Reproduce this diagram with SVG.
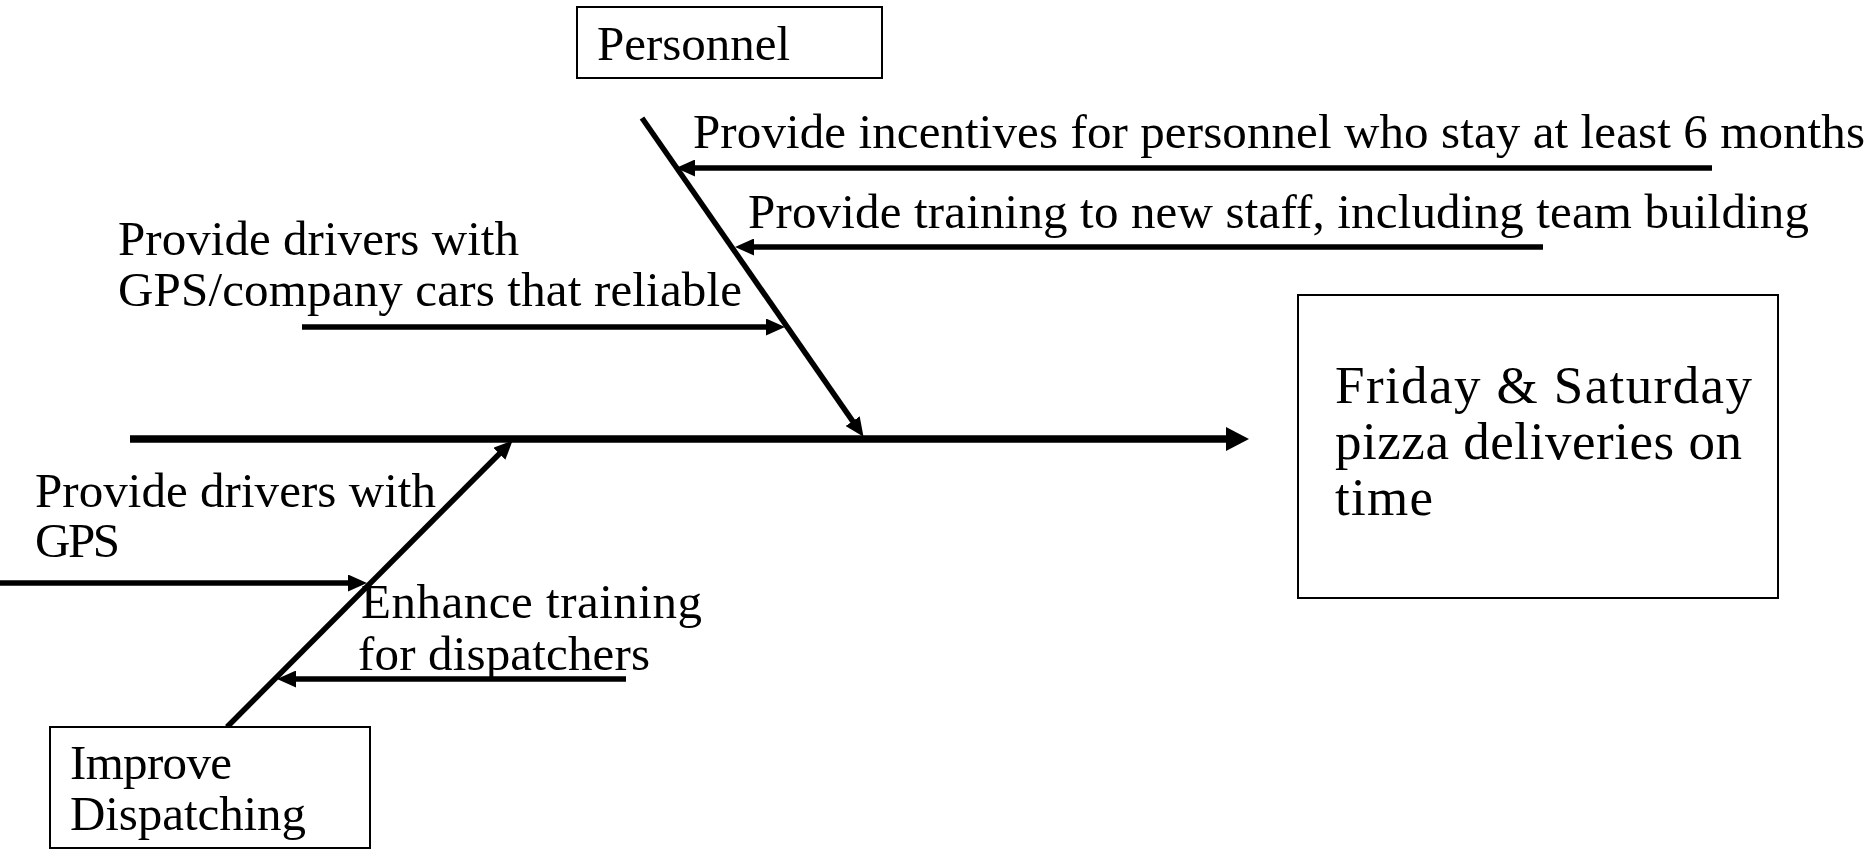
<svg xmlns="http://www.w3.org/2000/svg" width="1871" height="850" viewBox="0 0 1871 850">
  <style>
    .box { fill: #ffffff; stroke: #000000; stroke-width: 2; }
    .lbl { font-family: "Liberation Serif", "Times New Roman", serif; font-size: 49px; fill: #000000; }
    .big { font-family: "Liberation Serif", "Times New Roman", serif; font-size: 53px; fill: #000000; }
    .bone { stroke: #000000; stroke-width: 5.5; fill: none; marker-end: url(#head); }
    .spine { stroke: #000000; stroke-width: 7.5; fill: none; marker-end: url(#bighead); }
  </style>
  <defs>
    <marker id="head" viewBox="0 0 19 17" refX="10" refY="8.5" markerWidth="19" markerHeight="17" markerUnits="userSpaceOnUse" orient="auto">
      <path d="M0,0 L19,8.5 L0,17 z" fill="#000000"/>
    </marker>
    <marker id="bighead" viewBox="0 0 23 24" refX="13" refY="12" markerWidth="23" markerHeight="24" markerUnits="userSpaceOnUse" orient="auto">
      <path d="M0,0 L23,12 L0,24 z" fill="#000000"/>
    </marker>
  </defs>

  <!-- connectors: spine, category bones and cause arrows -->
  <g id="connectors">
    <line class="spine" x1="130" y1="439" x2="1239" y2="439"/>
    <line class="bone" x1="642" y1="118" x2="858.4" y2="429.4"/>
    <line class="bone" x1="227" y1="727" x2="506.4" y2="446.7"/>
    <line class="bone" x1="1712" y1="168" x2="685" y2="168"/>
    <line class="bone" x1="1543" y1="247" x2="744" y2="247"/>
    <line class="bone" x1="302" y1="327" x2="776" y2="327"/>
    <line class="bone" x1="0" y1="583" x2="358" y2="583"/>
    <line class="bone" x1="626" y1="679" x2="286" y2="679"/>
  </g>

  <!-- category: Personnel -->
  <g id="personnel">
    <rect class="box" x="577" y="7" width="305" height="71"/>
    <text class="lbl" x="597" y="60" textLength="193" lengthAdjust="spacing">Personnel</text>
  </g>

  <!-- category: Improve Dispatching -->
  <g id="dispatching">
    <rect class="box" x="50" y="727" width="320" height="121"/>
    <text class="lbl" x="70" y="779" textLength="162" lengthAdjust="spacing">Improve</text>
    <text class="lbl" x="70" y="830" textLength="236" lengthAdjust="spacing">Dispatching</text>
  </g>

  <!-- effect -->
  <g id="effect">
    <rect class="box" x="1298" y="295" width="480" height="303"/>
    <text class="big" x="1335" y="403" textLength="417" lengthAdjust="spacing">Friday &amp; Saturday</text>
    <text class="big" x="1335" y="459" textLength="407" lengthAdjust="spacing">pizza deliveries on</text>
    <text class="big" x="1335" y="515" textLength="98" lengthAdjust="spacing">time</text>
  </g>

  <!-- causes -->
  <g id="cause-incentives">
    <text class="lbl" x="693" y="148" textLength="1172" lengthAdjust="spacing">Provide incentives for personnel who stay at least 6 months</text>
  </g>
  <g id="cause-staff-training">
    <text class="lbl" x="748" y="228" textLength="1061" lengthAdjust="spacing">Provide training to new staff, including team building</text>
  </g>
  <g id="cause-company-cars">
    <text class="lbl" x="118" y="255" textLength="401" lengthAdjust="spacing">Provide drivers with</text>
    <text class="lbl" x="118" y="306" textLength="624" lengthAdjust="spacing">GPS/company cars that reliable</text>
  </g>
  <g id="cause-gps">
    <text class="lbl" x="35" y="507" textLength="401" lengthAdjust="spacing">Provide drivers with</text>
    <text class="lbl" x="35" y="557" textLength="85" lengthAdjust="spacing">GPS</text>
  </g>
  <g id="cause-dispatcher-training">
    <text class="lbl" x="361" y="618" textLength="341" lengthAdjust="spacing">Enhance training</text>
    <text class="lbl" x="358" y="670" textLength="292" lengthAdjust="spacing">for dispatchers</text>
  </g>
</svg>
